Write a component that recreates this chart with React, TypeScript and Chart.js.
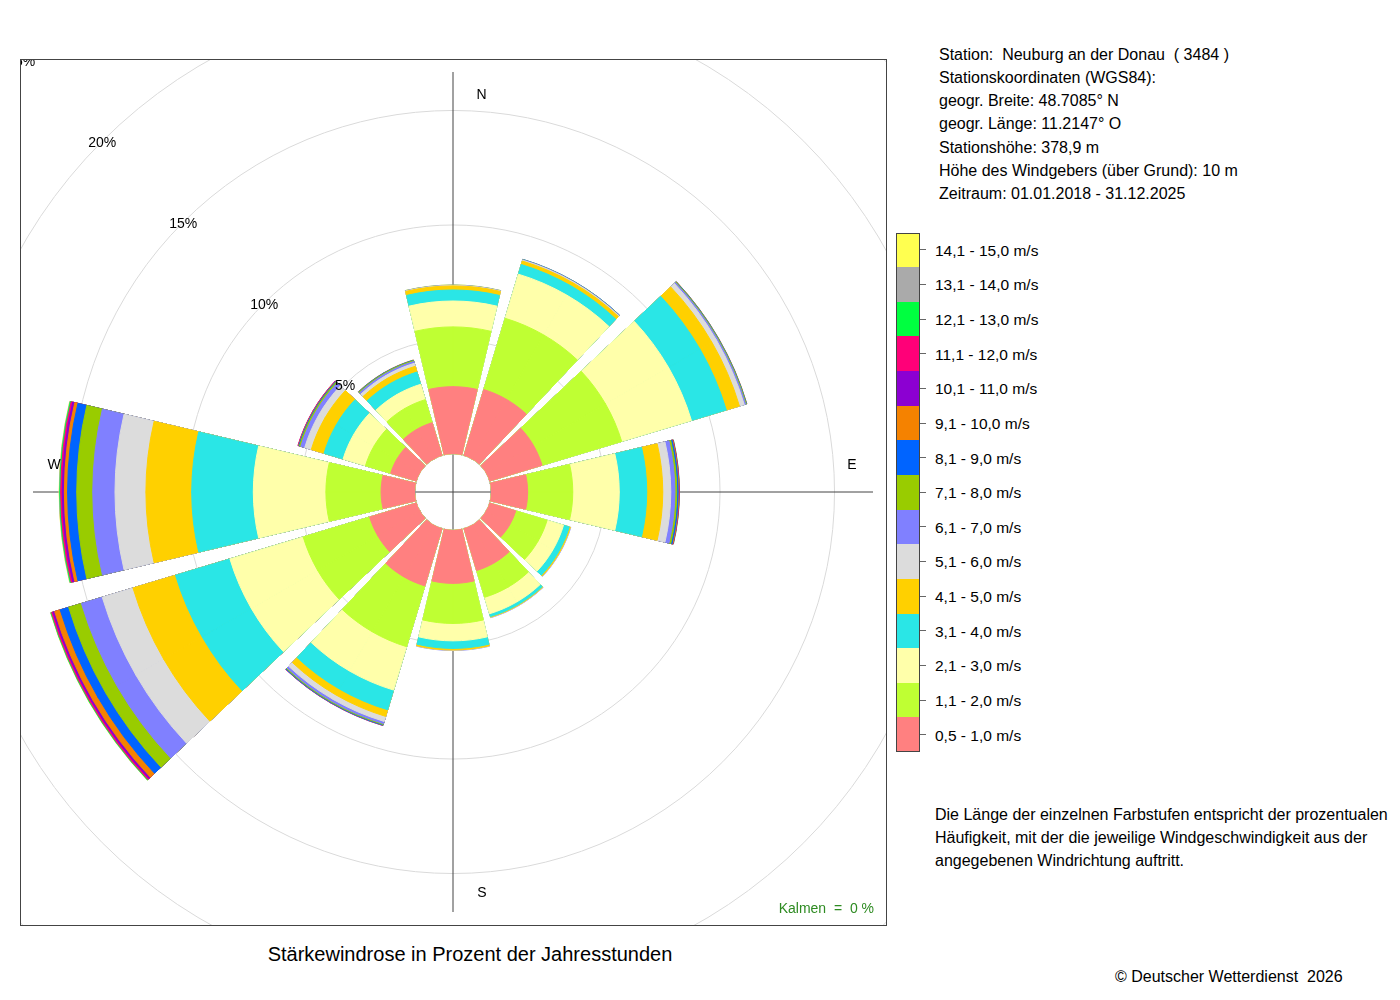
import React, { useEffect, useRef } from 'react';
import { Chart, registerables } from 'chart.js';

Chart.register(...registerables);

const FONT = '"Liberation Sans", Arial, Helvetica, sans-serif';

// Directions (clockwise from north)
const DIRECTIONS = ['N', 'NNO', 'ONO', 'O', 'OSO', 'SSO', 'S', 'SSW', 'WSW', 'W', 'WNW', 'NNW'];

// Speed classes (legend labels) and colours, lowest class first
const SPEED_CLASSES = [
  '0,5 - 1,0 m/s', '1,1 - 2,0 m/s', '2,1 - 3,0 m/s', '3,1 - 4,0 m/s', '4,1 - 5,0 m/s',
  '5,1 - 6,0 m/s', '6,1 - 7,0 m/s', '7,1 - 8,0 m/s', '8,1 - 9,0 m/s', '9,1 - 10,0 m/s',
  '10,1 - 11,0 m/s', '11,1 - 12,0 m/s', '12,1 - 13,0 m/s', '13,1 - 14,0 m/s', '14,1 - 15,0 m/s',
];
const CLASS_COLORS = [
  '#FF8080', '#BFFF33', '#FFFFAA', '#2AE6E6', '#FFD000',
  '#DCDCDC', '#8080FF', '#99CC00', '#0064FF', '#F58200',
  '#8C00D2', '#FF0078', '#00FF40', '#AAAAAA', '#FFFF50',
];

// Percent of hours per direction (N, NNO, ONO, O, OSO, SSO, S, SSW, WSW, W, WNW, NNW)
const S_0_5_1_0 = [2.94, 3.01, 2.40, 1.60, 1.20, 1.92, 2.33, 2.62, 2.14, 1.48, 1.18, 1.50];
const S_1_1_2_0 = [2.61, 3.25, 3.63, 1.97, 1.43, 1.22, 1.75, 2.77, 3.03, 2.41, 1.15, 1.05];
const S_2_1_3_0 = [1.13, 2.01, 3.18, 2.03, 0.75, 0.75, 0.76, 1.98, 3.34, 3.17, 1.02, 0.70];
const S_3_1_4_0 = [0.48, 0.44, 1.59, 1.20, 0.26, 0.13, 0.33, 0.90, 2.48, 2.69, 0.87, 0.56];
const S_4_1_5_0 = [0.18, 0.16, 0.60, 0.70, 0.05, 0.03, 0.07, 0.30, 1.94, 2.00, 0.58, 0.26];
const S_5_1_6_0 = [0.02, 0.04, 0.22, 0.35, 0.01, 0.01, 0.01, 0.23, 1.40, 1.35, 0.30, 0.14];
const S_6_1_7_0 = [0.01, 0.02, 0.06, 0.18, 0.01, 0.01, 0.01, 0.10, 0.95, 0.97, 0.18, 0.08];
const S_7_1_8_0 = [0.01, 0.01, 0.03, 0.08, 0, 0, 0, 0.04, 0.58, 0.70, 0.06, 0.04];
const S_8_1_9_0 = [0, 0.01, 0.02, 0.06, 0, 0, 0, 0.03, 0.39, 0.40, 0.03, 0.02];
const S_9_1_10_0 = [0, 0, 0.01, 0.03, 0, 0, 0, 0.01, 0.25, 0.14, 0.02, 0.01];
const S_10_1_11_0 = [0, 0, 0, 0.01, 0, 0, 0, 0.01, 0.08, 0.09, 0.01, 0];
const S_11_1_12_0 = [0, 0, 0, 0.01, 0, 0, 0, 0, 0.06, 0.07, 0.01, 0];
const S_12_1_13_0 = [0, 0, 0, 0.01, 0, 0, 0, 0, 0.03, 0.04, 0, 0];
const S_13_1_14_0 = [0, 0, 0, 0, 0, 0, 0, 0, 0.01, 0.02, 0, 0];
const S_14_1_15_0 = [0, 0, 0, 0, 0, 0, 0, 0, 0.01, 0.01, 0, 0];

const SERIES = [
  S_0_5_1_0, S_1_1_2_0, S_2_1_3_0, S_3_1_4_0, S_4_1_5_0,
  S_5_1_6_0, S_6_1_7_0, S_7_1_8_0, S_8_1_9_0, S_9_1_10_0,
  S_10_1_11_0, S_11_1_12_0, S_12_1_13_0, S_13_1_14_0, S_14_1_15_0,
];

// Radial scale (percent): ring values and axis range (inner hole below 0)
const RING_VALUES = [0, 5, 10, 15, 20, 25];
const R_MIN = -1.66;
const R_MAX = 16.68;
const CALM = 0;

const STATION_LINES = [
  'Station:\u00a0 Neuburg an der Donau \u00a0( 3484 )',
  'Stationskoordinaten (WGS84):',
  'geogr. Breite: 48.7085° N',
  'geogr. Länge: 11.2147° O',
  'Stationshöhe: 378,9 m',
  'Höhe des Windgebers (über Grund): 10 m',
  'Zeitraum: 01.01.2018 - 31.12.2025',
];
const NOTE_LINES = [
  'Die Länge der einzelnen Farbstufen entspricht der prozentualen',
  'Häufigkeit, mit der die jeweilige Windgeschwindigkeit aus der',
  'angegebenen Windrichtung auftritt.',
];

// geometry of sectors (degrees)
const HALF_SECTOR = 13.3;
const GAP = 3.4;

type Entry = { dir: number | null };
const ENTRIES: Entry[] = [];
for (let k = 0; k < DIRECTIONS.length; k++) {
  ENTRIES.push({ dir: k });
  ENTRIES.push({ dir: null });
  ENTRIES.push({ dir: (k + 1) % DIRECTIONS.length });
}
const ENTRY_ANGLES = ENTRIES.map((e) => (e.dir === null ? GAP : HALF_SECTOR));
const AXIS_INDEXES = [0, 9, 18, 27];

const COMPASS = [
  { t: 'N', dx: 28.5, dy: -398 },
  { t: 'E', dx: 399, dy: -28 },
  { t: 'S', dx: 29, dy: 400 },
  { t: 'W', dx: -399, dy: -28 },
];

const roseDecor = {
  id: 'roseDecor',
  beforeDatasetsDraw(chart: any) {
    const s = chart.scales.r;
    const ctx = chart.ctx;
    const r0 = s.getDistanceFromCenterForValue(0);
    ctx.save();
    ctx.beginPath();
    ctx.rect(-20, -20, chart.width + 40, chart.height + 40);
    ctx.moveTo(s.xCenter + r0, s.yCenter);
    ctx.arc(s.xCenter, s.yCenter, r0, 0, Math.PI * 2, true);
    ctx.clip('evenodd');
  },
  afterDatasetsDraw(chart: any) {
    const s = chart.scales.r;
    const ctx = chart.ctx;
    ctx.restore();
    ctx.save();
    ctx.font = '14px ' + FONT;
    ctx.fillStyle = '#000';
    ctx.textAlign = 'center';
    ctx.textBaseline = 'middle';
    RING_VALUES.forEach((v) => {
      if (v <= 0) return;
      const r = s.getDistanceFromCenterForValue(v);
      ctx.fillText(v + '%', s.xCenter - r * Math.SQRT1_2, s.yCenter - r * Math.SQRT1_2 + 2);
    });
    COMPASS.forEach((c) => ctx.fillText(c.t, s.xCenter + c.dx, s.yCenter + c.dy + 1));
    ctx.restore();
  },
};

export default function App() {
  const ref = useRef<HTMLCanvasElement | null>(null);

  useEffect(() => {
    if (!ref.current) return;
    const cum: number[][] = [];
    SERIES.forEach((arr, j) => {
      cum.push(arr.map((v, d) => (j === 0 ? v : cum[j - 1][d] + v)));
    });
    const datasets = SERIES.map((arr, j) => {
      const colors = ENTRIES.map((e) =>
        e.dir !== null && arr[e.dir] > 0 ? CLASS_COLORS[j] : 'rgba(0,0,0,0)'
      );
      return {
        label: SPEED_CLASSES[j],
        data: ENTRIES.map((e) => (e.dir === null ? 0 : cum[j][e.dir])),
        backgroundColor: colors,
        borderColor: colors,
        borderWidth: 1,
        clip: false as any,
        angle: (ctx: any) => ENTRY_ANGLES[ctx.dataIndex],
      };
    });
    const chart = new Chart(ref.current, {
      type: 'polarArea',
      data: {
        labels: ENTRIES.map((e) => (e.dir === null ? '' : DIRECTIONS[e.dir])),
        datasets: datasets as any,
      },
      options: {
        animation: false,
        responsive: true,
        maintainAspectRatio: false,
        events: [],
        layout: { padding: 13 },
        plugins: { legend: { display: false }, tooltip: { enabled: false } },
        scales: {
          r: {
            min: R_MIN,
            max: R_MAX,
            startAngle: 0,
            beginAtZero: false,
            ticks: { display: false },
            afterBuildTicks: (scale: any) => {
              scale.ticks = RING_VALUES.map((v) => ({ value: v }));
            },
            grid: { circular: true, color: '#dadada', lineWidth: 1 },
            angleLines: {
              display: true,
              color: '#444',
              lineWidth: (ctx: any) => (AXIS_INDEXES.includes(ctx.index) ? 1 : 0),
            },
            pointLabels: { display: false },
          } as any,
        },
      },
      plugins: [roseDecor as any],
    });
    return () => chart.destroy();
  }, []);

  const legendTop = 232.5;
  const boxH = 34.64;
  const legendOrder = SPEED_CLASSES.map((_, i) => SPEED_CLASSES.length - 1 - i);

  return (
    <div style={{ position: 'absolute', left: 0, top: 0, width: 1400, height: 1000, background: '#fff', fontFamily: FONT, color: '#000' }}>
      <div style={{ position: 'absolute', left: 20, top: 59, width: 867, height: 867 }}>
        <canvas ref={ref} />
      </div>
      <div style={{ position: 'absolute', left: 20, top: 59, width: 867, height: 867, border: '1px solid #444', boxSizing: 'border-box', pointerEvents: 'none' }} />
      <div style={{ position: 'absolute', right: 526, top: 899, fontSize: 14, lineHeight: '18px', color: '#2E8B22', whiteSpace: 'pre' }}>
        {'Kalmen  =  ' + CALM + ' %'}
      </div>
      <div style={{ position: 'absolute', left: 170, width: 600, top: 942, textAlign: 'center', fontSize: 20, lineHeight: '24px' }}>
        Stärkewindrose in Prozent der Jahresstunden
      </div>
      <div style={{ position: 'absolute', left: 939, top: 42.6, fontSize: 16, lineHeight: '23.25px', whiteSpace: 'pre' }}>
        {STATION_LINES.map((l, i) => (<div key={i}>{l}</div>))}
      </div>
      <div style={{ position: 'absolute', left: 896, top: legendTop, width: 24, height: boxH * 15, border: '1px solid #444', boxSizing: 'border-box' }} />
      {legendOrder.map((ci, i) => (
        <React.Fragment key={ci}>
          <div style={{ position: 'absolute', left: 897, top: legendTop + i * boxH + (i === 0 ? 1 : 0), width: 22, height: boxH - (i === 0 || i === 14 ? 1 : 0), background: CLASS_COLORS[ci] }} />
          <div style={{ position: 'absolute', left: 920, top: legendTop + i * boxH + boxH / 2 - 0.5, width: 6, height: 1, background: '#666' }} />
          <div style={{ position: 'absolute', left: 935, top: legendTop + i * boxH + boxH / 2 - 8.1, fontSize: 15.5, lineHeight: '18px', whiteSpace: 'pre' }}>
            {SPEED_CLASSES[ci]}
          </div>
        </React.Fragment>
      ))}
      <div style={{ position: 'absolute', left: 935, top: 803, fontSize: 16, lineHeight: '23px', whiteSpace: 'pre' }}>
        {NOTE_LINES.map((l, i) => (<div key={i}>{l}</div>))}
      </div>
      <div style={{ position: 'absolute', left: 1115, top: 966, fontSize: 16, lineHeight: '22px', whiteSpace: 'pre' }}>
        {'© Deutscher Wetterdienst  2026'}
      </div>
    </div>
  );
}
